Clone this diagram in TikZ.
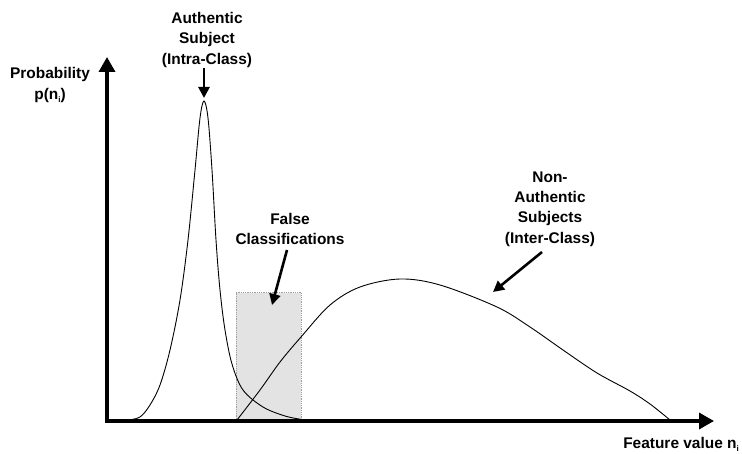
\documentclass[tikz,border=0pt]{standalone}
\usepackage{fontspec}
\setmainfont{Liberation Sans}
\usetikzlibrary{arrows.meta}
\newcommand{\subi}{\raisebox{-0.35ex}{\fontsize{8}{8}\selectfont i}}
\begin{document}
\begin{tikzpicture}[x=1bp,y=-1bp,
  lbl/.style={font=\fontsize{15.5}{20.5}\selectfont\bfseries, align=center, inner sep=0pt},
  axis/.style={line width=3.4bp, -{Triangle[length=15bp,width=16bp]}},
  pointer/.style={line width=2.6bp, -{Triangle[length=11bp,width=11bp]}},
  curve/.style={line width=0.9bp, smooth, tension=0.55},
  region/.style={fill=gray!22, draw=gray!75, line width=0.8bp, densely dotted}]
\useasboundingbox (0,0) rectangle (742,454);

% shaded overlap region
\node[region, minimum width=65bp, minimum height=127bp, inner sep=0pt, anchor=south west] (err) at (236,420) {};

% intra-class density
\draw[curve] plot coordinates {(128,420) (140,417) (150,405) (160,385) (170,350) (180,300) (188,240)
  (195,170) (200,118) (204,101) (208,118) (212,170) (216,240) (220,290) (225,330) (232,364)
  (243,390) (263,407) (285,416) (302,419.5)};

% inter-class density
\draw[curve] plot coordinates {(237,420) (260,390) (280,362) (301,337) (330,305) (360,287)
  (400,279) (440,285) (497,307) (530,327) (563,350) (597,373) (630,391) (650,404) (670,420)};

% axes
\coordinate (o) at (107,421);
\coordinate (ytip) at (107,57);
\coordinate (xtip) at (714,421);
\draw[axis] (o) -- (ytip);
\draw[axis] ([xshift=-1.7bp]o) -- (xtip);

% labels
\node[lbl] (ylab) at (50,85) {Probability\\p(n\subi)};
\node[lbl, anchor=east] (xlab) at (739,444) {Feature value n\subi};
\node[lbl] (auth) at (207,40) {Authentic\\Subject\\(Intra-Class)};
\node[lbl] (false) at (290,229) {False\\Classifications};
\node[lbl] (nonauth) at (550,209) {Non-\\Authentic\\Subjects\\(Inter-Class)};

% pointers
\coordinate (peak) at (204,98);
\coordinate (errtip) at (272,305);
\coordinate (intertip) at (493,292);
\draw[pointer] (204,68) -- (peak);
\draw[pointer] (287,250) -- (errtip);
\draw[pointer] (542,252) -- (intertip);
\end{tikzpicture}
\end{document}
